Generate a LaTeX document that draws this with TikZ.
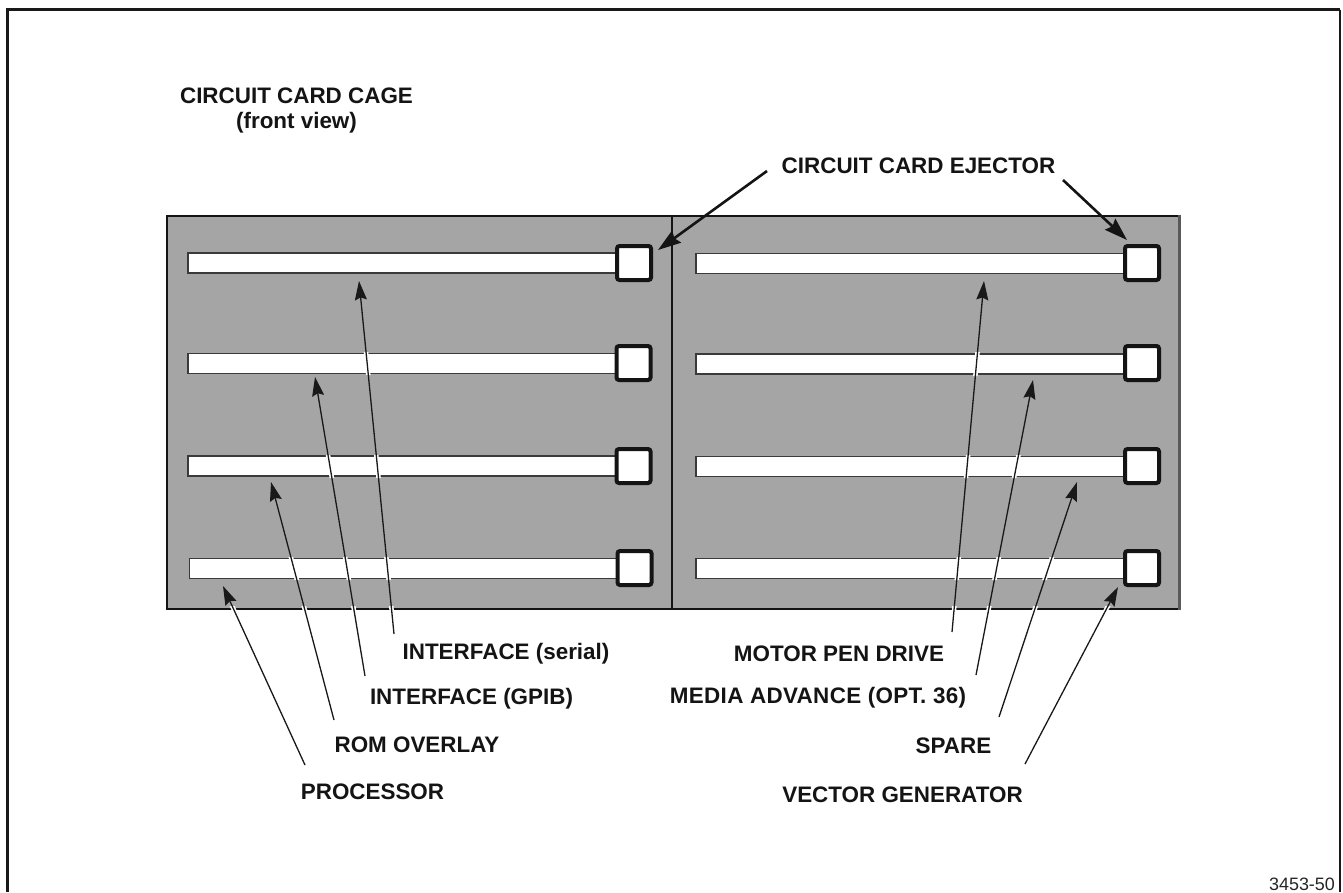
\documentclass[tikz,border=0pt]{standalone}
\usepackage{fontspec}
\setmainfont{Liberation Sans}
\usetikzlibrary{arrows.meta}
\definecolor{cagegray}{HTML}{A5A5A5}
\definecolor{barline}{HTML}{3A3A3A}
\tikzset{
  x=1bp,y=-1bp,
  lbl/.style={inner sep=0pt,outer sep=0pt,anchor=center,text=black!92,font=\bfseries\fontsize{22.5}{26}\selectfont},
  cardbar/.style={draw=barline,fill=white,line width=1.8bp,minimum width=429bp,minimum height=20bp,inner sep=0pt,anchor=center},
  ejector/.style={draw=black!92,fill=white,line width=4bp,rounded corners=2.5bp,minimum width=34bp,minimum height=34bp,inner sep=0pt,anchor=center},
  thinarrow/.style={draw=black!90,line width=1.3bp,-{Stealth[length=19bp,width=12bp,inset=2.5bp]}},
  heavyarrow/.style={draw=black!92,line width=2.6bp,-{Stealth[length=23bp,width=15bp,inset=3bp]}},
  gapline/.style={draw=white,line width=4.5bp},
  frameline/.style={draw=black!90,line width=3bp},
}
\begin{document}
\begin{tikzpicture}
\useasboundingbox (0,0) rectangle (1343,892);
\fill[white] (0,0) rectangle (1343,892);
% outer frame, open at the bottom
\draw[frameline] (7,892) -- (7,9.5) -- (1340,9.5);
\draw[draw=black!90,line width=2bp] (1340,9.5) -- (1340,892);
% cage
\fill[cagegray] (167,216) rectangle (1179,609);
\draw[draw=black!92,line width=2.6bp] (1179,216) -- (167,216) -- (167,609) -- (1179,609);
\draw[draw=black!65,line width=3bp] (1179,215) -- (1179,610);
\draw[draw=black!92,line width=2.6bp] (672,216) -- (672,609);
% cards
\node[cardbar] (barA) at (402.5,263) {};
\node[cardbar] (barB) at (402.5,363.5) {};
\node[cardbar] (barC) at (402.5,466) {};
\node[cardbar] (barD) at (404,568.5) {};
\node[cardbar] (barE) at (910.5,263.5) {};
\node[cardbar] (barF) at (910.5,364) {};
\node[cardbar] (barG) at (910.5,466.5) {};
\node[cardbar] (barH) at (910.5,568.5) {};
% labels
\node[lbl] (title) at (296.5,96) {CIRCUIT CARD CAGE};
\node[lbl] (subtitle) at (296.5,123) {(front view)};
\node[lbl] (ej) at (918.5,166) {CIRCUIT CARD EJECTOR};
\node[lbl] (serial) at (506,654) {INTERFACE (serial)};
\node[lbl] (gpib) at (471.5,699) {INTERFACE (GPIB)};
\node[lbl] (rom) at (417,745) {ROM OVERLAY};
\node[lbl] (proc) at (372.5,792) {PROCESSOR};
\node[lbl] (motor) at (839,654) {MOTOR PEN DRIVE};
\node[lbl] (media) at (818,698) {\addfontfeature{LetterSpace=1.5}MEDIA ADVANCE (OPT. 36)};
\node[lbl] (spare) at (953.5,746) {SPARE};
\node[lbl] (vector) at (902.5,795) {VECTOR GENERATOR};
\node[inner sep=0pt,outer sep=0pt,anchor=center,text=black!85,font=\fontsize{18}{21}\selectfont] (num) at (1302,884) {3453-50};
% connector ends
\coordinate (sA) at (394,634); \coordinate (tA) at (359,281);
\coordinate (sB) at (365,676); \coordinate (tB) at (315,377);
\coordinate (sC) at (334,720); \coordinate (tC) at (271,482);
\coordinate (sD) at (305,765); \coordinate (tD) at (223,586);
\coordinate (sE) at (952,632); \coordinate (tE) at (984,281);
\coordinate (sF) at (976,675); \coordinate (tF) at (1033,380);
\coordinate (sG) at (999,717); \coordinate (tG) at (1077,482);
\coordinate (sH) at (1025,764); \coordinate (tH) at (1118,587);
\coordinate (sI) at (767,171); \coordinate (tI) at (658,250);
\coordinate (sJ) at (1063,180); \coordinate (tJ) at (1127,240);
% breaks where leaders cross the card outlines and the cage edge
\begin{scope}
\clip (187,251) rectangle (618,275) (187,352) rectangle (618,375) (187,455) rectangle (618,478) (187,557) rectangle (618,580)
      (695,252) rectangle (1126,275) (695,352) rectangle (1126,376) (695,455) rectangle (1126,478) (695,557) rectangle (1126,580)
      (167,606) rectangle (1179,612);
\foreach \n in {A,B,C,D,E,F,G,H}{\draw[gapline] (s\n) -- (t\n);}
\end{scope}
% leaders
\foreach \n in {A,B,C,D,E,F,G,H}{\draw[thinarrow] (s\n) -- (t\n);}
\draw[heavyarrow] (sI) -- (tI);
\draw[heavyarrow] (sJ) -- (tJ);
% ejectors
\node[ejector] (e1) at (634,263) {};
\node[ejector] (e2) at (633.5,363) {};
\node[ejector] (e3) at (633.5,466) {};
\node[ejector] (e4) at (634.5,568) {};
\node[ejector] (e5) at (1142,263) {};
\node[ejector] (e6) at (1142,363) {};
\node[ejector] (e7) at (1142,466) {};
\node[ejector] (e8) at (1142,568) {};
\end{tikzpicture}
\end{document}
